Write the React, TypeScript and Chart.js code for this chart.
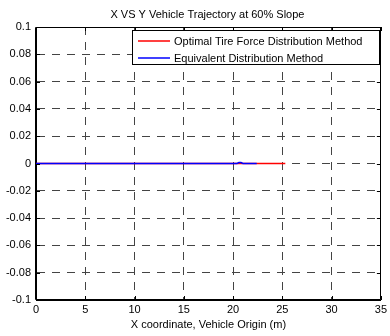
import React, { useEffect, useRef } from "react";
import { Chart, registerables } from "chart.js";

Chart.register(...registerables);

const chartTitle = "X VS Y Vehicle Trajectory at 60% Slope";
const xTitle = "X coordinate, Vehicle Origin (m)";
const seriesNames = ["Optimal Tire Force Distribution Method", "Equivalent Distribution Method"];
const seriesColors = ["#ff0000", "#0000ff"];

const optimalX = [0, 25.3];
const optimalY = [0, 0];
const equivalentX = [0, 20.4, 20.6, 20.8, 21.0, 22.4];
const equivalentY = [0, 0, 0.0007, 0.0007, 0, 0];

const xTicks = [0, 5, 10, 15, 20, 25, 30, 35];
const yTicks = [-0.1, -0.08, -0.06, -0.04, -0.02, 0, 0.02, 0.04, 0.06, 0.08, 0.1];

const FONT = "'Liberation Sans', Arial, sans-serif";

const matlabPlugin = {
  id: "matlabDecor",
  afterDraw(chart: any) {
    const { ctx, chartArea } = chart;
    const { left, right, top, bottom } = chartArea;
    const xs = chart.scales.x;
    const ys = chart.scales.y;
    ctx.save();
    // box
    ctx.strokeStyle = "#000";
    ctx.lineWidth = 1;
    ctx.setLineDash([]);
    ctx.beginPath();
    ctx.rect(Math.round(left) - 0.5, Math.round(top) + 0.5, Math.round(right - left), Math.round(bottom - top) - 1);
    ctx.stroke();
    // inner ticks
    const tl = 4;
    ctx.beginPath();
    xTicks.forEach((v) => {
      const px = Math.round(xs.getPixelForValue(v)) + 0.5;
      ctx.moveTo(px, bottom);
      ctx.lineTo(px, bottom - tl);
      ctx.moveTo(px, top);
      ctx.lineTo(px, top + tl);
    });
    yTicks.forEach((v) => {
      const py = Math.round(ys.getPixelForValue(v)) + 0.5;
      ctx.moveTo(left, py);
      ctx.lineTo(left + tl, py);
      ctx.moveTo(right, py);
      ctx.lineTo(right - tl, py);
    });
    ctx.stroke();
    // title
    ctx.fillStyle = "#000";
    ctx.font = `11px ${FONT}`;
    ctx.textAlign = "center";
    ctx.textBaseline = "middle";
    ctx.fillText(chartTitle, (left + right) / 2 - 1, 15);
    // legend
    const lx = 132.5, ly = 30.5, lw = 247, lh = 34;
    ctx.fillStyle = "#fff";
    ctx.fillRect(lx, ly, lw, lh);
    ctx.strokeStyle = "#000";
    ctx.strokeRect(lx, ly, lw, lh);
    const rows = [41, 58];
    seriesNames.forEach((name, i) => {
      ctx.strokeStyle = seriesColors[i];
      ctx.lineWidth = 1.5;
      ctx.beginPath();
      ctx.moveTo(138, rows[i]);
      ctx.lineTo(170, rows[i]);
      ctx.stroke();
      ctx.fillStyle = "#000";
      ctx.textAlign = "left";
      ctx.textBaseline = "middle";
      ctx.fillText(name, 174, rows[i] + 0.5);
    });
    ctx.restore();
  },
};

export default function App() {
  const ref = useRef<HTMLCanvasElement>(null);
  useEffect(() => {
    if (!ref.current) return;
    const chart = new Chart(ref.current, {
      type: "scatter",
      data: {
        datasets: [
          {
            label: seriesNames[0],
            data: optimalX.map((x, i) => ({ x, y: optimalY[i] })),
            borderColor: seriesColors[0],
            backgroundColor: seriesColors[0],
            showLine: true,
            borderWidth: 1.5,
            pointRadius: 0,
            order: 1,
          },
          {
            label: seriesNames[1],
            data: equivalentX.map((x, i) => ({ x, y: equivalentY[i] })),
            borderColor: seriesColors[1],
            backgroundColor: seriesColors[1],
            showLine: true,
            borderWidth: 1.5,
            pointRadius: 0,
            order: 0,
          },
        ],
      },
      plugins: [matlabPlugin],
      options: {
        responsive: false,
        animation: false,
        devicePixelRatio: 1,
        layout: { padding: { top: 27, right: 7, left: 0, bottom: 0 } },
        plugins: {
          legend: { display: false },
          title: { display: false },
          tooltip: { enabled: false },
        },
        scales: {
          x: {
            type: "linear",
            min: 0,
            max: 35,
            afterFit: (s: any) => {
              s.height = 36;
            },
            afterBuildTicks: (s: any) => {
              s.ticks = xTicks.map((v) => ({ value: v }));
            },
            ticks: {
              autoSkip: false,
              maxRotation: 0,
              padding: 3,
              color: "#000",
              font: { family: FONT, size: 11 },
            },
            grid: { color: "#444", lineWidth: 1, drawTicks: false },
            border: { color: "#000", width: 1, dash: [8, 7] },
            title: {
              display: true,
              text: xTitle,
              color: "#000",
              font: { family: FONT, size: 11 },
              padding: { top: 0, bottom: 4 },
            },
          },
          y: {
            type: "linear",
            min: -0.1,
            max: 0.1,
            afterFit: (s: any) => {
              s.width = 36;
            },
            afterBuildTicks: (s: any) => {
              s.ticks = yTicks.map((v) => ({ value: v }));
            },
            ticks: {
              autoSkip: false,
              padding: 5,
              color: "#000",
              font: { family: FONT, size: 11 },
              callback: (v: any) => String(Number(Number(v).toFixed(2))),
            },
            grid: { color: "#444", lineWidth: 1, drawTicks: false },
            border: { color: "#000", width: 1, dash: [8, 7] },
          },
        },
      },
    });
    return () => chart.destroy();
  }, []);
  return (
    <div style={{ position: "fixed", left: 0, top: 0, width: 390, height: 336, background: "#fff" }}>
      <canvas ref={ref} width={390} height={336} />
    </div>
  );
}
